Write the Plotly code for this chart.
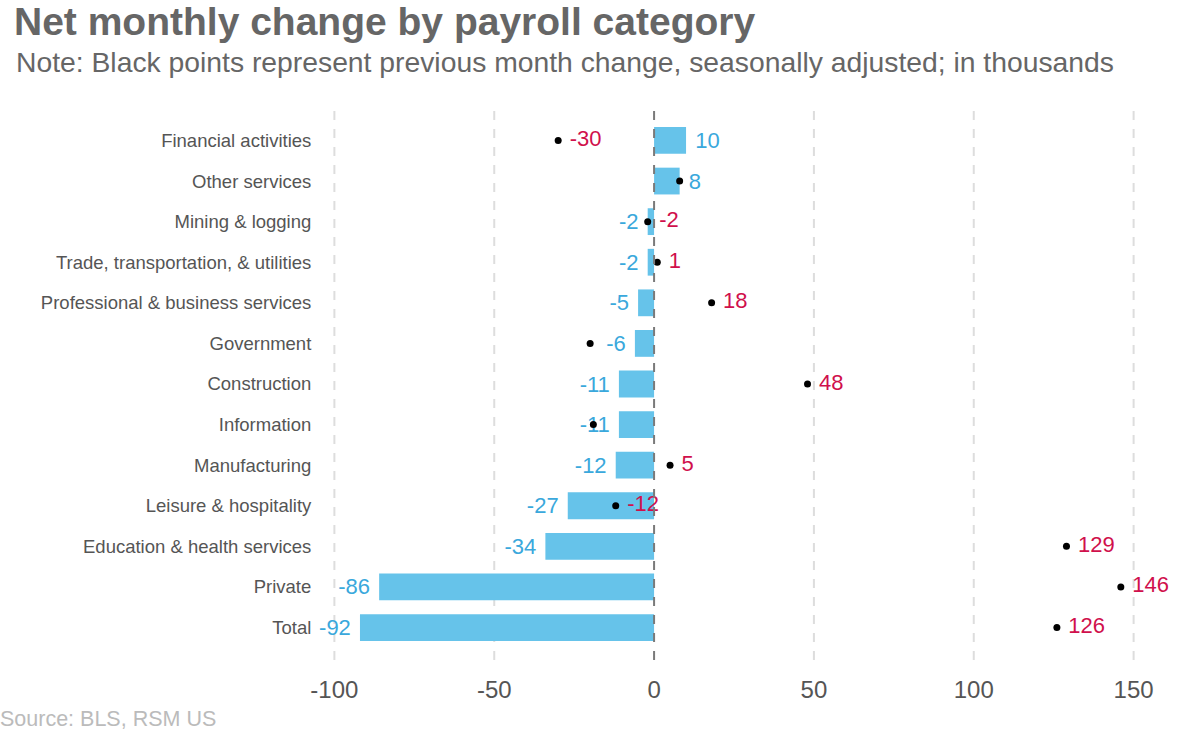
import plotly.graph_objects as go

categories = ["Financial activities", "Other services", "Mining & logging",
              "Trade, transportation, & utilities", "Professional & business services",
              "Government", "Construction", "Information", "Manufacturing",
              "Leisure & hospitality", "Education & health services", "Private", "Total"]
current = [10, 8, -2, -2, -5, -6, -11, -11, -12, -27, -34, -86, -92]
previous = [-30, 8, -2, 1, 18, -20, 48, -19, 5, -12, 129, 146, 126]
show_prev_label = [True, False, True, True, True, False, True, False, True, True, True, True, True]
x_ticks = [-100, -50, 0, 50, 100, 150]

W, H = 1177, 735
XMIN, XMAX = -102, 152
PX_PER_UNIT = 3.2
ZERO_PAGE = 654
L = ZERO_PAGE + XMIN * PX_PER_UNIT
RIGHT = ZERO_PAGE + XMAX * PX_PER_UNIT
R = W - RIGHT
T = 108
B = H - 660
FONT = "Liberation Sans, Arial, sans-serif"
BLUE = "#66c3ea"
BLUE_TXT = "#3aa8dc"
RED = "#d0104c"

fig = go.Figure()
fig.add_trace(go.Bar(
    y=categories, x=current, orientation="h",
    marker=dict(color=BLUE, line=dict(width=0)),
    width=0.66,
    text=[(" " + str(v)) if v >= 0 else (str(v) + " ") for v in current],
    textposition="outside",
    textfont=dict(color=BLUE_TXT, size=22, family=FONT),
    constraintext="none", cliponaxis=False, hoverinfo="skip",
))
fig.add_trace(go.Scatter(
    y=categories, x=previous, mode="markers+text",
    marker=dict(color="black", size=7),
    text=[" " + str(v) if s else "" for v, s in zip(previous, show_prev_label)],
    textposition="middle right",
    textfont=dict(color=RED, size=22, family=FONT),
    cliponaxis=False, hoverinfo="skip",
))

pw = W - L - R
ph = H - T - B
def px2x(px):
    return (px - L) / pw
def px2y(py):
    return 1 - (py - T) / ph

fig.update_layout(
    width=W, height=H,
    margin=dict(l=L, r=R, t=T, b=B, autoexpand=False),
    paper_bgcolor="white", plot_bgcolor="white",
    showlegend=False,
    font=dict(family=FONT, color="#555555"),
    xaxis=dict(range=[XMIN, XMAX], tickvals=x_ticks, ticktext=[str(v) for v in x_ticks],
               showgrid=False, zeroline=False, showline=False, automargin=False,
               tickfont=dict(size=24, color="#555555"), ticks="outside", ticklen=8,
               tickcolor="rgba(0,0,0,0)"),
    yaxis=dict(range=[12.8, -0.8], showgrid=False, zeroline=False, showline=False,
               automargin=False,
               tickfont=dict(size=18.5, color="#555555"), ticks="outside", ticklen=12,
               tickcolor="rgba(0,0,0,0)"),
)

shapes = []
for v in x_ticks:
    shapes.append(dict(type="line", xref="x", yref="paper", x0=v, x1=v, y0=0, y1=1,
                       line=dict(color="#7a7a7a" if v == 0 else "#dddddd", width=2, dash="dash"),
                       layer="above" if v == 0 else "below"))
fig.update_layout(shapes=shapes)

fig.add_annotation(text="<b>Net monthly change by payroll category</b>", xref="paper", yref="paper",
                   x=px2x(11), y=px2y(22), xanchor="left", yanchor="middle",
                   showarrow=False, font=dict(size=39, color="#666666", family=FONT))
fig.add_annotation(text="Note: Black points represent previous month change, seasonally adjusted; in thousands",
                   xref="paper", yref="paper",
                   x=px2x(13), y=px2y(62), xanchor="left", yanchor="middle",
                   showarrow=False, font=dict(size=28.3, color="#666666", family=FONT))
fig.add_annotation(text="Source: BLS, RSM US", xref="paper", yref="paper",
                   x=px2x(-3), y=px2y(719), xanchor="left", yanchor="middle",
                   showarrow=False, font=dict(size=21.5, color="#bbbbbb", family=FONT))

fig.write_html("out.html", config={"displayModeBar": False},
               post_script="document.body.style.margin='0';document.body.style.overflow='hidden';")
